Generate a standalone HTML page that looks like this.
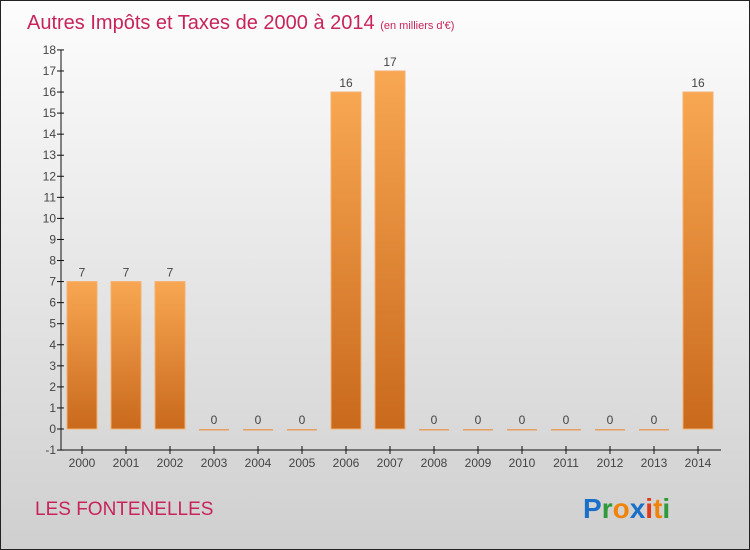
<!DOCTYPE html>
<html><head><meta charset="utf-8"><style>
body{margin:0;}
#c{width:748px;height:548px;border:1px solid #222;background:linear-gradient(#fdfdfd,#cfcfcf);position:relative;overflow:hidden;font-family:"Liberation Sans",sans-serif;}
</style></head><body>
<div id="c">
<svg id="s" width="748" height="548" xmlns="http://www.w3.org/2000/svg">
<defs><linearGradient id="bg" x1="0" y1="0" x2="0" y2="1"><stop offset="0" stop-color="#f8a752"/><stop offset="1" stop-color="#c9691c"/></linearGradient></defs>
<text x="26" y="28" font-size="20" fill="#c8245a">Autres Impôts et Taxes de 2000 à 2014 <tspan font-size="11">(en milliers d'€)</tspan></text>
<text x="34" y="514" font-size="19" fill="#c8245a">LES FONTENELLES</text>
<text x="582" y="517" font-size="28" font-weight="bold"><tspan fill="#1a6fc8">P</tspan><tspan fill="#2e9a3a">r</tspan><tspan fill="#f0830a">o</tspan><tspan fill="#1a6fc8">x</tspan><tspan fill="#e03a1a">i</tspan><tspan fill="#f0830a">t</tspan><tspan fill="#2e9a3a">i</tspan></text>
<g id="g"></g>
</svg></div>
<script>
const categories=["2000","2001","2002","2003","2004","2005","2006","2007","2008","2009","2010","2011","2012","2013","2014"];
const values=[7,7,7,0,0,0,16,17,0,0,0,0,0,0,16];
const yTicks=[-1,0,1,2,3,4,5,6,7,8,9,10,11,12,13,14,15,16,17,18];
const NS="http://www.w3.org/2000/svg";
const g=document.getElementById('g');
const y=v=>428-v*21.06;
const x=i=>81+i*44;
function mk(t,a){const e=document.createElementNS(NS,t);for(const k in a)e.setAttribute(k,a[k]);g.appendChild(e);return e;}
let ax=mk('line',{x1:60,y1:y(18),x2:60,y2:y(-1),stroke:'#111','stroke-width':1});


let xa=mk('line',{x1:60,y1:y(-1),x2:720,y2:y(-1),stroke:'#111','stroke-width':1});


yTicks.forEach(v=>{
 let t=mk('line',{x1:56,x2:63,y1:y(v),y2:y(v),stroke:'#111'});
 
 
 let l=mk('text',{x:55,y:y(v)+4,'font-size':12,'text-anchor':'end',fill:'#444'});
 l.textContent=v;
 
 
});
categories.forEach((c,i)=>{
 let t=mk('line',{x1:x(i),x2:x(i),y1:y(-1)-4,y2:y(-1)+4,stroke:'#111'});
 
 
 let l=mk('text',{x:x(i),y:466,'font-size':12,'text-anchor':'middle',fill:'#444'});
 l.textContent=c;
 
 
 const v=values[i];
 let b;
 if(v>0){b=mk('rect',{x:x(i)-15,y:y(v),width:30,height:y(0)-y(v),fill:'url(#bg)',stroke:'#f5b070','stroke-width':1});}
 else{b=mk('rect',{x:x(i)-15,y:y(0),width:30,height:1.5,fill:'#e8a060'});}
 
 
 let vl=mk('text',{x:x(i),y:y(v)-5,'font-size':12,'text-anchor':'middle',fill:'#444'});
 vl.textContent=v;
 
 
});
</script>
</body></html>
